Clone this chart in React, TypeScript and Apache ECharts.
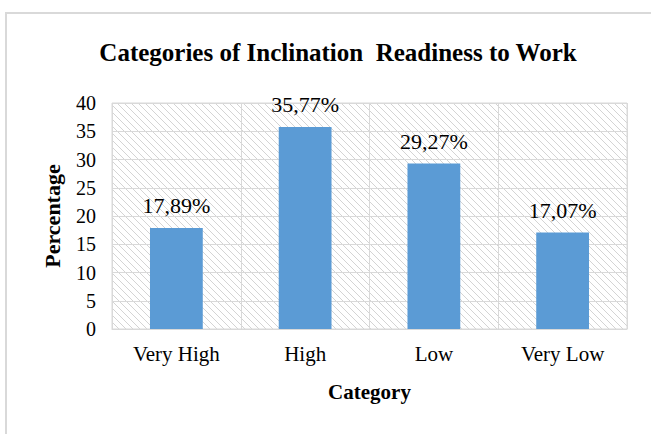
import React, { useEffect, useRef } from "react";
import * as echarts from "echarts";

const categories = ["Very High", "High", "Low", "Very Low"];
const percentages = [17.89, 35.77, 29.27, 17.07];
const yTicks = { min: 0, max: 40, interval: 5 };
const titleText = "Categories of Inclination  Readiness to Work";

const FONT = "'Liberation Serif', 'Times New Roman', serif";

function makeHatch(): HTMLCanvasElement {
  const c = document.createElement("canvas");
  const s = 7;
  c.width = s;
  c.height = s;
  const ctx = c.getContext("2d")!;
  ctx.fillStyle = "#ffffff";
  ctx.fillRect(0, 0, s, s);
  ctx.strokeStyle = "#d4d4d4";
  ctx.lineWidth = 1;
  ctx.beginPath();
  ctx.moveTo(-1, -1);
  ctx.lineTo(s + 1, s + 1);
  ctx.moveTo(-1, s - 1);
  ctx.lineTo(1, s + 1);
  ctx.moveTo(s - 1, -1);
  ctx.lineTo(s + 1, 1);
  ctx.stroke();
  return c;
}

export default function App() {
  const ref = useRef<HTMLDivElement>(null);
  useEffect(() => {
    if (!ref.current) return;
    const chart = echarts.init(ref.current, null, { renderer: "svg" });
    const hatch = makeHatch();
    chart.setOption({
      animation: false,
      backgroundColor: "#ffffff",
      graphic: [
        {
          type: "rect",
          shape: { x: 6, y: 13, width: 700, height: 500 },
          style: { fill: "none", stroke: "#d9d9d9", lineWidth: 2 },
          silent: true,
          z: -1,
        },
      ],
      title: {
        text: titleText,
        left: 333,
        top: 35,
        textAlign: "center",
        textStyle: {
          fontFamily: FONT,
          fontWeight: "bold",
          fontSize: 25,
          color: "#000000",
        },
      },
      grid: {
        left: 112,
        right: 24,
        top: 103,
        bottom: 105,
        show: true,
        borderColor: "#d9d9d9",
        borderWidth: 1,
        backgroundColor: { image: hatch, repeat: "repeat" },
      },
      xAxis: {
        type: "category",
        data: categories,
        boundaryGap: true,
        name: "Category",
        nameLocation: "middle",
        nameGap: 52,
        nameTextStyle: {
          fontFamily: FONT,
          fontWeight: "bold",
          fontSize: 21,
          color: "#000000",
        },
        axisLine: { show: true, lineStyle: { color: "#d9d9d9", width: 1 } },
        axisTick: { show: false },
        axisLabel: {
          fontFamily: FONT,
          fontSize: 21,
          color: "#000000",
          margin: 14,
        },
        splitLine: { show: true, lineStyle: { color: "#d9d9d9", width: 1 } },
      },
      yAxis: {
        type: "value",
        min: yTicks.min,
        max: yTicks.max,
        interval: yTicks.interval,
        name: "Percentage",
        nameLocation: "middle",
        nameGap: 49,
        nameRotate: 90,
        nameTextStyle: {
          fontFamily: FONT,
          fontWeight: "bold",
          fontSize: 22,
          color: "#000000",
        },
        axisLine: { show: false },
        axisTick: { show: false },
        axisLabel: {
          fontFamily: FONT,
          fontSize: 20,
          color: "#000000",
          margin: 16,
        },
        splitLine: { show: true, lineStyle: { color: "#d9d9d9", width: 1 } },
      },
      series: [
        {
          type: "bar",
          data: percentages,
          barWidth: "41%",
          itemStyle: { color: "#5b9bd5" },
          label: {
            show: true,
            position: "top",
            distance: 11,
            fontFamily: FONT,
            fontSize: 22,
            color: "#000000",
            formatter: (p: any) => p.value.toFixed(2).replace(".", ",") + "%",
          },
        },
      ],
    });
    return () => chart.dispose();
  }, []);
  return (
    <div
      ref={ref}
      style={{ position: "fixed", left: 0, top: 0, width: 651, height: 434 }}
    />
  );
}
